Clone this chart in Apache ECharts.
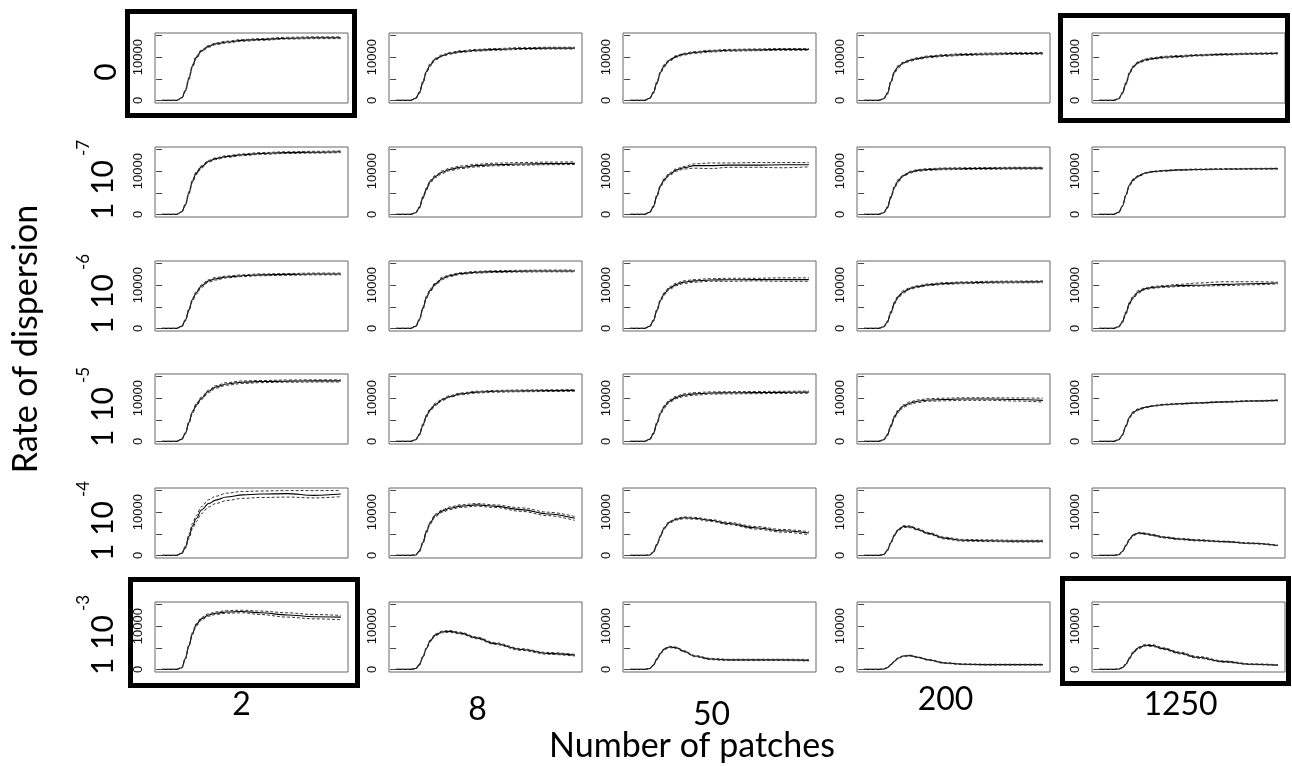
<!DOCTYPE html>
<html>
<head>
<meta charset="utf-8">
<script src="https://cdn.jsdelivr.net/npm/echarts@6/dist/echarts.min.js"></script>
<style>
  html, body { margin: 0; background: #fff; }
  #chart { width: 1292px; height: 766px; }
</style>
</head>
<body>
<div id="chart"></div>
<script>
// time steps shared by every panel
const time = [0, 8, 11, 13, 15, 17, 19, 22, 26, 30, 36, 45, 55, 70, 85, 100];
const patches = ['2', '8', '50', '200', '1250'];
const rates = ['0', '-7', '-6', '-5', '-4', '-3'];

// rate 0
const meanRate0 = [
  [0, 0, 600, 2200, 5100, 8000, 9900, 11500, 12500, 13100, 13500, 13900, 14100, 14400, 14500, 14500],
  [0, 0, 500, 1800, 4200, 6700, 8200, 9600, 10400, 10900, 11300, 11600, 11800, 12000, 12100, 12100],
  [0, 0, 500, 1800, 4100, 6500, 8000, 9300, 10200, 10700, 11100, 11400, 11600, 11700, 11800, 11800],
  [0, 0, 400, 1600, 4300, 6600, 7800, 8700, 9300, 9700, 10100, 10400, 10600, 10750, 10850, 10900],
  [0, 0, 400, 1700, 3900, 6300, 7800, 8800, 9400, 9700, 10000, 10200, 10450, 10650, 10800, 10900]
];
const upperRate0 = [
  [0, 0, 700, 2400, 5400, 8300, 10200, 11700, 12700, 13300, 13700, 14100, 14300, 14600, 14700, 14700],
  [0, 0, 600, 2000, 4500, 7000, 8500, 9800, 10600, 11100, 11500, 11800, 12000, 12200, 12300, 12300],
  [0, 0, 600, 2000, 4400, 6800, 8300, 9500, 10400, 10900, 11300, 11600, 11800, 11900, 12000, 12000],
  [0, 0, 500, 1800, 4600, 6900, 8100, 8900, 9500, 9900, 10300, 10600, 10800, 10950, 11050, 11100],
  [0, 0, 500, 1900, 4200, 6600, 8000, 9000, 9600, 9900, 10200, 10400, 10600, 10800, 10950, 11050]
];
const lowerRate0 = [
  [0, 0, 500, 2000, 4800, 7700, 9600, 11300, 12300, 12900, 13300, 13700, 13900, 14200, 14300, 14300],
  [0, 0, 400, 1600, 3900, 6400, 7900, 9400, 10200, 10700, 11100, 11400, 11600, 11800, 11900, 11900],
  [0, 0, 400, 1600, 3800, 6200, 7700, 9100, 10000, 10500, 10900, 11200, 11400, 11500, 11600, 11600],
  [0, 0, 300, 1400, 4000, 6300, 7500, 8500, 9100, 9500, 9900, 10200, 10400, 10550, 10650, 10700],
  [0, 0, 300, 1500, 3600, 6000, 7600, 8600, 9200, 9500, 9800, 10000, 10300, 10500, 10650, 10750]
];

// rate 1e-7
const meanRate7 = [
  [0, 0, 600, 2200, 5000, 7700, 9500, 11000, 12300, 12900, 13400, 13800, 14100, 14300, 14400, 14500],
  [0, 0, 400, 1600, 3900, 5900, 7600, 8800, 9800, 10400, 10900, 11300, 11500, 11650, 11750, 11800],
  [0, 0, 500, 1800, 4300, 6600, 8000, 9300, 10300, 10800, 11300, 11300, 11400, 11400, 11500, 11500],
  [0, 0, 400, 1600, 4000, 6300, 7800, 9000, 9800, 10200, 10400, 10550, 10600, 10650, 10700, 10700],
  [0, 0, 500, 1900, 4500, 6800, 8000, 8900, 9600, 9900, 10100, 10300, 10400, 10500, 10550, 10600]
];
const upperRate7 = [
  [0, 0, 700, 2400, 5300, 8000, 9800, 11300, 12500, 13100, 13600, 14000, 14300, 14500, 14600, 14700],
  [0, 0, 500, 1800, 4200, 6200, 7900, 9100, 10100, 10700, 11200, 11600, 11850, 12000, 12100, 12150],
  [0, 0, 600, 2000, 4600, 6900, 8300, 9600, 10600, 11100, 11700, 11900, 11900, 12000, 12000, 12000],
  [0, 0, 500, 1800, 4300, 6600, 8100, 9200, 10000, 10400, 10600, 10750, 10800, 10850, 10900, 10900],
  [0, 0, 600, 2000, 4700, 7000, 8200, 9100, 9700, 10000, 10200, 10400, 10500, 10600, 10650, 10700]
];
const lowerRate7 = [
  [0, 0, 500, 2000, 4700, 7400, 9200, 10700, 12100, 12700, 13200, 13600, 13900, 14100, 14200, 14300],
  [0, 0, 300, 1400, 3600, 5600, 7300, 8500, 9500, 10100, 10600, 11000, 11250, 11400, 11500, 11550],
  [0, 0, 400, 1600, 4000, 6300, 7700, 9000, 10000, 10500, 10700, 10600, 10900, 10900, 10800, 11000],
  [0, 0, 300, 1400, 3700, 6000, 7500, 8800, 9600, 10000, 10200, 10350, 10400, 10450, 10500, 10500],
  [0, 0, 400, 1800, 4300, 6600, 7800, 8700, 9500, 9800, 10000, 10200, 10300, 10400, 10450, 10500]
];

// rate 1e-6
const meanRate6 = [
  [0, 0, 500, 1900, 4300, 6700, 8200, 9800, 11000, 11500, 11900, 12200, 12400, 12500, 12600, 12600],
  [0, 0, 500, 2000, 4700, 7200, 8800, 10300, 11600, 12200, 12700, 13000, 13150, 13250, 13300, 13300],
  [0, 0, 500, 1800, 4200, 6500, 8000, 9300, 10200, 10700, 11000, 11200, 11250, 11300, 11300, 11300],
  [0, 0, 400, 1500, 3700, 5900, 7300, 8500, 9300, 9700, 10100, 10400, 10550, 10700, 10750, 10800],
  [0, 0, 400, 1500, 3600, 5800, 7200, 8500, 9200, 9500, 9700, 9900, 10000, 10200, 10350, 10500]
];
const upperRate6 = [
  [0, 0, 600, 2100, 4600, 7000, 8500, 10100, 11300, 11800, 12100, 12400, 12600, 12700, 12800, 12800],
  [0, 0, 600, 2200, 5000, 7500, 9100, 10600, 11900, 12400, 12900, 13200, 13350, 13450, 13500, 13500],
  [0, 0, 600, 2000, 4500, 6800, 8300, 9600, 10500, 11000, 11300, 11500, 11600, 11600, 11700, 11700],
  [0, 0, 500, 1700, 4000, 6200, 7600, 8800, 9500, 9900, 10300, 10600, 10750, 10900, 10950, 11000],
  [0, 0, 500, 1700, 3900, 6100, 7500, 8800, 9400, 9700, 9900, 10200, 10500, 10800, 10800, 10700]
];
const lowerRate6 = [
  [0, 0, 400, 1700, 4000, 6400, 7900, 9500, 10700, 11200, 11700, 12000, 12200, 12300, 12400, 12400],
  [0, 0, 400, 1800, 4400, 6900, 8500, 10000, 11300, 12000, 12500, 12800, 12950, 13050, 13100, 13100],
  [0, 0, 400, 1600, 3900, 6200, 7700, 9000, 9900, 10400, 10700, 10900, 10900, 11000, 10900, 10900],
  [0, 0, 300, 1300, 3400, 5600, 7000, 8200, 9100, 9500, 9900, 10200, 10350, 10500, 10550, 10600],
  [0, 0, 300, 1300, 3300, 5500, 6900, 8200, 9000, 9300, 9500, 9700, 9800, 9900, 10100, 10300]
];

// rate 1e-5
const meanRate5 = [
  [0, 0, 500, 1900, 4400, 6800, 8400, 10000, 11600, 12600, 13300, 13700, 13850, 13950, 14000, 14000],
  [0, 0, 400, 1600, 3800, 5900, 7300, 8600, 9700, 10400, 11000, 11400, 11600, 11700, 11750, 11800],
  [0, 0, 500, 1800, 4200, 6500, 8000, 9300, 10200, 10700, 11000, 11200, 11250, 11300, 11350, 11400],
  [0, 0, 400, 1500, 3600, 5700, 7000, 8200, 8900, 9300, 9600, 9700, 9800, 9800, 9700, 9500],
  [0, 0, 400, 1500, 3600, 5600, 6700, 7400, 7900, 8200, 8500, 8700, 8900, 9150, 9350, 9500]
];
const upperRate5 = [
  [0, 0, 600, 2100, 4700, 7100, 8700, 10300, 11900, 12900, 13600, 14000, 14100, 14200, 14250, 14250],
  [0, 0, 500, 1800, 4100, 6200, 7600, 8900, 9900, 10600, 11200, 11600, 11800, 11900, 11950, 12000],
  [0, 0, 600, 2000, 4500, 6800, 8300, 9600, 10500, 11000, 11300, 11450, 11500, 11550, 11600, 11650],
  [0, 0, 500, 1700, 3900, 6000, 7300, 8500, 9200, 9600, 9900, 10000, 10100, 10100, 10050, 10000],
  [0, 0, 500, 1600, 3800, 5800, 6900, 7600, 8000, 8300, 8600, 8800, 9000, 9250, 9450, 9600]
];
const lowerRate5 = [
  [0, 0, 400, 1700, 4100, 6500, 8100, 9700, 11300, 12300, 13000, 13400, 13600, 13700, 13750, 13750],
  [0, 0, 300, 1400, 3500, 5600, 7000, 8300, 9500, 10200, 10800, 11200, 11400, 11500, 11550, 11600],
  [0, 0, 400, 1600, 3900, 6200, 7700, 9000, 9900, 10400, 10700, 10950, 11000, 11050, 11100, 11150],
  [0, 0, 300, 1300, 3300, 5400, 6700, 7900, 8600, 9000, 9300, 9400, 9500, 9500, 9350, 9100],
  [0, 0, 300, 1400, 3400, 5400, 6500, 7200, 7800, 8100, 8400, 8600, 8800, 9050, 9250, 9400]
];

// rate 1e-4
const meanRate4 = [
  [0, 0, 500, 1900, 4400, 6800, 8500, 10500, 12000, 12800, 13500, 14000, 14200, 14300, 13900, 14200],
  [0, 0, 100, 1000, 3000, 5500, 7500, 9300, 10300, 10900, 11400, 11700, 11400, 10600, 9600, 8600],
  [0, 0, 100, 800, 2500, 4500, 6300, 7700, 8400, 8700, 8600, 8100, 7400, 6400, 5700, 5200],
  [0, 0, 200, 1200, 3000, 4700, 5900, 6700, 6600, 6000, 5100, 4000, 3500, 3400, 3300, 3300],
  [0, 0, 150, 900, 2300, 3700, 4700, 5200, 5000, 4700, 4200, 3800, 3500, 3200, 2800, 2300]
];
const upperRate4 = [
  [0, 0, 600, 2200, 4900, 7400, 9200, 11300, 12900, 13700, 14400, 14800, 14900, 15000, 15000, 15000],
  [0, 0, 200, 1200, 3300, 5800, 7800, 9600, 10600, 11200, 11700, 12000, 11700, 11000, 10000, 9000],
  [0, 0, 150, 950, 2700, 4700, 6500, 7900, 8600, 8900, 8800, 8300, 7650, 6700, 6000, 5500],
  [0, 0, 250, 1350, 3200, 4900, 6100, 6900, 6800, 6200, 5300, 4200, 3700, 3600, 3500, 3500],
  [0, 0, 200, 1000, 2450, 3850, 4850, 5350, 5150, 4850, 4350, 3950, 3650, 3300, 2900, 2400]
];
const lowerRate4 = [
  [0, 0, 400, 1600, 3900, 6200, 7800, 9700, 11200, 12000, 12700, 13200, 13400, 13500, 13300, 13600],
  [0, 0, 50, 800, 2700, 5200, 7200, 9000, 10000, 10600, 11100, 11400, 11100, 10200, 9200, 8100],
  [0, 0, 50, 650, 2300, 4300, 6100, 7500, 8200, 8500, 8400, 7900, 7150, 6100, 5400, 4800],
  [0, 0, 150, 1050, 2800, 4500, 5700, 6500, 6400, 5800, 4900, 3800, 3300, 3200, 3100, 3100],
  [0, 0, 100, 800, 2150, 3550, 4550, 5050, 4850, 4550, 4050, 3650, 3350, 3100, 2700, 2200]
];

// rate 1e-3
const meanRate3 = [
  [0, 0, 400, 2500, 5500, 8300, 10300, 11700, 12600, 13000, 13300, 13400, 13100, 12600, 12200, 12100],
  [0, 0, 200, 1100, 2900, 4900, 6600, 8000, 8700, 8800, 8400, 7300, 6000, 4600, 3700, 3300],
  [0, 0, 200, 1000, 2400, 3700, 4700, 5200, 5000, 4200, 3100, 2400, 2200, 2200, 2200, 2100],
  [0, 0, 100, 400, 1100, 1900, 2600, 3100, 3200, 2800, 2200, 1500, 1200, 1100, 1100, 1100],
  [0, 0, 100, 400, 1200, 2600, 3900, 5000, 5600, 5500, 4800, 3800, 2800, 1800, 1200, 1000]
];
const upperRate3 = [
  [0, 0, 500, 2700, 5800, 8600, 10600, 12000, 12900, 13300, 13600, 13700, 13500, 13100, 12700, 12500],
  [0, 0, 250, 1250, 3100, 5100, 6800, 8200, 8900, 9000, 8600, 7500, 6200, 4800, 3900, 3500],
  [0, 0, 250, 1100, 2550, 3850, 4850, 5350, 5150, 4350, 3250, 2550, 2350, 2350, 2350, 2300],
  [0, 0, 150, 500, 1200, 2000, 2700, 3200, 3300, 2900, 2300, 1600, 1300, 1200, 1200, 1200],
  [0, 0, 150, 500, 1350, 2800, 4100, 5200, 5800, 5700, 5000, 4000, 3000, 1950, 1300, 1100]
];
const lowerRate3 = [
  [0, 0, 300, 2300, 5200, 8000, 10000, 11400, 12300, 12700, 13000, 13100, 12700, 12100, 11700, 11500],
  [0, 0, 150, 950, 2700, 4700, 6400, 7800, 8500, 8600, 8200, 7100, 5800, 4400, 3500, 3100],
  [0, 0, 150, 900, 2250, 3550, 4550, 5050, 4850, 4050, 2950, 2250, 2050, 2050, 2050, 1950],
  [0, 0, 50, 300, 1000, 1800, 2500, 3000, 3100, 2700, 2100, 1400, 1100, 1000, 1000, 1000],
  [0, 0, 50, 300, 1050, 2400, 3700, 4800, 5400, 5300, 4600, 3600, 2600, 1650, 1100, 900]
];

const rows = [
  { mean: meanRate0, upper: upperRate0, lower: lowerRate0 },
  { mean: meanRate7, upper: upperRate7, lower: lowerRate7 },
  { mean: meanRate6, upper: upperRate6, lower: lowerRate6 },
  { mean: meanRate5, upper: upperRate5, lower: lowerRate5 },
  { mean: meanRate4, upper: upperRate4, lower: lowerRate4 },
  { mean: meanRate3, upper: upperRate3, lower: lowerRate3 }
];

// panel layout (px)
const colLeft = [155, 389, 623, 857, 1092];
const rowTop = [33, 147, 261, 374, 488, 602];
const boxW = 193, boxH = 70;
const colLabelY = [705, 710, 715, 700, 705];

const chart = echarts.init(document.getElementById('chart'));

function line(i, data, dashed) {
  return {
    type: 'line',
    xAxisIndex: i,
    yAxisIndex: i,
    data: data,
    showSymbol: false,
    smooth: 0.35,
    smoothMonotone: 'x',
    silent: true,
    lineStyle: dashed
      ? { color: '#333', width: 1, type: [3, 2] }
      : { color: '#000', width: 1.1 }
  };
}

const grid = [], xAxis = [], yAxis = [], series = [];
rows.forEach((row, r) => {
  patches.forEach((p, c) => {
    const i = grid.length;
    grid.push({
      left: colLeft[c], top: rowTop[r], width: boxW, height: boxH,
      show: true, borderColor: '#666', borderWidth: 1, backgroundColor: 'transparent'
    });
    xAxis.push({ gridIndex: i, type: 'value', min: -4, max: 104, show: false });
    yAxis.push({
      gridIndex: i, type: 'value', min: -600, max: 15600,
      splitLine: { show: false },
      axisLine: { show: false },
      axisTick: { show: true, length: 6, customValues: [0, 5000, 10000, 15000], lineStyle: { color: '#444' } },
      axisLabel: {
        customValues: [0, 10000], rotate: 90, margin: 10,
        formatter: v => String(v),
        fontSize: 13, color: '#111', fontFamily: 'Liberation Sans'
      }
    });
    const pts = arr => time.map((t, k) => [t, arr[c][k]]);
    series.push(line(i, pts(row.mean), false), line(i, pts(row.upper), true), line(i, pts(row.lower), true));
  });
});

const graphic = [];
// thick frames round the corner panels
[[125, 9, 232, 109], [128, 577, 232, 111], [1058, 13, 232, 110], [1060, 576, 231, 110]].forEach(b => {
  graphic.push({
    type: 'rect', silent: true,
    shape: { x: b[0] + 2.5, y: b[1] + 2.5, width: b[2] - 5, height: b[3] - 5 },
    style: { fill: 'none', stroke: '#000', lineWidth: 5 }
  });
});

// row labels
rates.forEach((rate, r) => {
  const cy = rowTop[r] + boxH / 2;
  if (rate === '0') {
    graphic.push({
      type: 'text', x: 106, y: cy + 4, rotation: Math.PI / 2,
      style: { text: '0', fontSize: 30, fontFamily: 'Lato', fill: '#000', align: 'center', verticalAlign: 'middle' }
    });
  } else {
    graphic.push({
      type: 'group', x: 103, y: cy + 8, rotation: Math.PI / 2,
      children: [
        { type: 'text', style: { text: '1 10', x: 0, y: 0, fontSize: 30, fontFamily: 'Lato', fill: '#000', align: 'center', verticalAlign: 'middle' } },
        { type: 'text', style: { text: rate, x: 34, y: -19, fontSize: 17, fontFamily: 'Lato', fill: '#000', align: 'left', verticalAlign: 'middle' } }
      ]
    });
  }
});

// column labels
patches.forEach((p, c) => {
  graphic.push({
    type: 'text', x: colLeft[c] + boxW / 2 - 8 + (c === 0 ? -2 : 0), y: colLabelY[c],
    style: { text: p, fontSize: 32, fontFamily: 'Lato', fill: '#000', align: 'center', verticalAlign: 'middle' }
  });
});

graphic.push({
  type: 'text', x: 692, y: 746,
  style: { text: 'Number of patches', fontSize: 34, fontFamily: 'Lato', fill: '#000', align: 'center', verticalAlign: 'middle' }
});
graphic.push({
  type: 'text', x: 26, y: 339, rotation: Math.PI / 2,
  style: { text: 'Rate of dispersion', fontSize: 34, fontFamily: 'Lato', fill: '#000', align: 'center', verticalAlign: 'middle' }
});

chart.setOption({
  animation: false,
  backgroundColor: '#fff',
  grid: grid,
  xAxis: xAxis,
  yAxis: yAxis,
  series: series,
  graphic: graphic
});
</script>
</body>
</html>
